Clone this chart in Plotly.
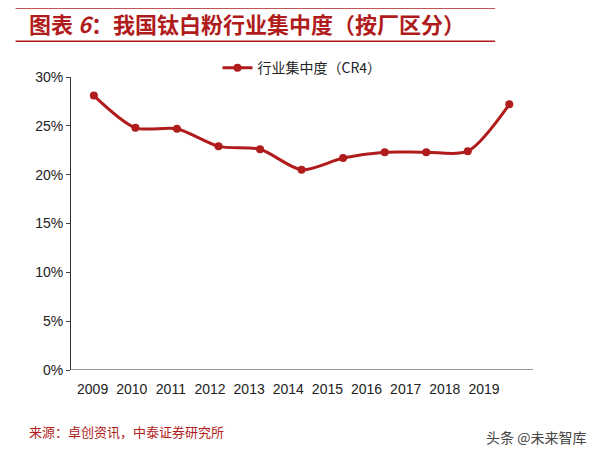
import plotly.graph_objects as go

years = ["2009", "2010", "2011", "2012", "2013", "2014", "2015", "2016", "2017", "2018", "2019"]
cr4 = [28.1, 24.8, 24.7, 22.9, 22.6, 20.5, 21.7, 22.3, 22.3, 22.4, 27.2]

red = "#B01C1C"
fig = go.Figure()
fig.add_trace(go.Scatter(x=list(range(len(years))), y=cr4, mode="lines+markers",
                         line=dict(color=red, width=3, shape="spline", smoothing=0.8),
                         marker=dict(size=8, color=red), name="行业集中度（CR4）"))

# labels sit a bit left of the points in the original
tick_pos = [i * 0.942 - 0.03 for i in range(len(years))]
fig.update_layout(
    width=599, height=462, margin=dict(l=63, r=74, t=69, b=100, autoexpand=False),
    plot_bgcolor="white", paper_bgcolor="white",
    font=dict(family="Noto Sans CJK SC", size=14, color="#222"),
    showlegend=True,
    legend=dict(orientation="h", x=0.5, xanchor="center", y=1.03, yanchor="middle",
                font=dict(size=14)),
    xaxis=dict(range=[-0.55, 10.57], tickvals=tick_pos, ticktext=years, showline=False,
               ticks="outside", ticklen=6, tickcolor="white",
               showgrid=False, zeroline=False, tickfont=dict(family="Liberation Sans", size=14)),
    yaxis=dict(range=[0, 30], tickvals=[0, 5, 10, 15, 20, 25, 30],
               ticktext=["0%", "5%", "10%", "15%", "20%", "25%", "30%"],
               showline=True, linecolor="#333", linewidth=1, ticks="outside", ticklen=4,
               showgrid=False, zeroline=False, tickfont=dict(family="Liberation Sans", size=14)),
)
fig.add_shape(type="line", xref="paper", yref="y", x0=0, x1=1, y0=0, y1=0,
              line=dict(color="#333", width=1))
fig.add_shape(type="line", xref="paper", yref="paper", x0=-0.12, x1=0.918, y0=1.122, y1=1.122,
              line=dict(color=red, width=1.5))
fig.add_shape(type="line", xref="paper", yref="paper", x0=-0.12, x1=0.918, y0=1.24, y1=1.24,
              line=dict(color=red, width=4))
fig.add_annotation(text="<b>图表 <i>6</i>：我国钛白粉行业集中度（按厂区分）</b>", xref="paper", yref="paper",
                   x=-0.095, y=1.122, xanchor="left", yanchor="bottom", showarrow=False,
                   font=dict(size=22, color=red, family="Noto Sans CJK SC"))
fig.add_annotation(text="来源：卓创资讯，中泰证券研究所", xref="paper", yref="paper",
                   x=-0.095, y=-0.21, xanchor="left", yanchor="middle", showarrow=False,
                   font=dict(size=13, color=red, family="Noto Sans CJK SC"))
fig.add_annotation(text="头条 @未来智库", xref="paper", yref="paper",
                   x=1.12, y=-0.23, xanchor="right", yanchor="middle", showarrow=False,
                   font=dict(size=14, color="#444", family="Noto Sans CJK SC"))
fig.write_html("out.html")
